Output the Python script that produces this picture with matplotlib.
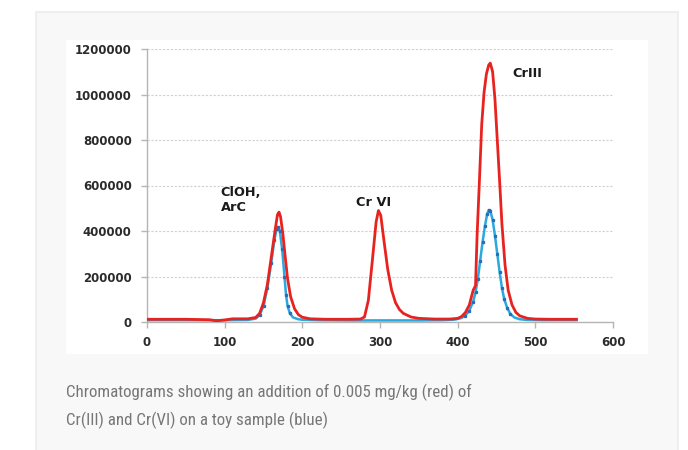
import matplotlib
matplotlib.use("Agg")
import matplotlib.pyplot as plt
from matplotlib.patches import Rectangle
from matplotlib import font_manager

# ---- data ----
red_x = [0, 50, 80, 88, 92, 100, 110, 130, 140, 145, 150, 155, 160, 165, 168, 170,
         172, 175, 178, 181, 185, 190, 195, 200, 210, 230, 260, 275, 280, 285, 290,
         295, 298, 301, 305, 310, 315, 320, 325, 330, 340, 350, 370, 390, 400, 405,
         410, 415, 420, 423, 425, 428, 431, 434, 437, 440, 442, 445, 448, 451, 454,
         457, 461, 465, 470, 475, 480, 490, 500, 520, 553]
red_y = [12000, 12000, 10000, 6000, 6000, 9000, 14000, 14000, 20000, 38000, 85000,
         165000, 285000, 405000, 472000, 483000, 462000, 385000, 285000, 190000,
         110000, 58000, 32000, 21000, 14000, 12000, 12000, 13000, 22000, 95000,
         265000, 440000, 490000, 468000, 360000, 230000, 140000, 85000, 55000,
         38000, 22000, 16000, 13000, 13000, 16000, 24000, 42000, 75000, 140000,
         160000, 380000, 620000, 870000, 1010000, 1090000, 1130000, 1138000,
         1100000, 980000, 800000, 620000, 430000, 250000, 140000, 75000, 42000,
         27000, 16000, 13000, 12000, 12000]

blue_x = [0, 50, 100, 130, 140, 145, 150, 155, 160, 164, 167, 169, 171, 174, 177,
          179, 181, 184, 188, 195, 200, 220, 260, 300, 350, 380, 395, 400, 405,
          410, 415, 420, 423, 426, 429, 432, 435, 438, 440, 442, 445, 448, 451,
          454, 457, 460, 464, 468, 473, 480, 490, 510, 553]
blue_y = [8000, 8000, 8000, 9000, 15000, 30000, 70000, 150000, 260000, 360000,
          410000, 418000, 400000, 320000, 200000, 120000, 70000, 38000, 20000,
          12000, 10000, 8000, 7000, 7000, 7000, 8000, 10000, 13000, 18000, 28000,
          50000, 90000, 130000, 190000, 270000, 350000, 420000, 475000, 492000,
          488000, 450000, 380000, 300000, 220000, 150000, 100000, 60000, 35000,
          20000, 12000, 9000, 8000, 8000]

x_ticks = [0, 100, 200, 300, 400, 500, 600]
y_ticks = [0, 200000, 400000, 600000, 800000, 1000000, 1200000]

labels = ["ClOH,\nArC", "Cr VI", "CrIII"]
label_x = [95, 269, 471]
label_y = [490000, 510000, 1077000]

caption_lines = ["Chromatograms showing an addition of 0.005 mg/kg (red) of",
                 "Cr(III) and Cr(VI) on a toy sample (blue)"]

# pick a condensed face for the caption if one is installed
cap_family = "Roboto"
cap_size = 10.6
names = sorted({f.name for f in font_manager.fontManager.ttflist})
for cand in ("Liberation Sans Narrow", "DejaVu Sans Condensed", "Roboto Condensed",
             "Open Sans Condensed"):
    if cand in names:
        cap_family = cand
        cap_size = 12.2
        break

# ---- figure ----
W, H = 688, 450
fig = plt.figure(figsize=(W / 100, H / 100), dpi=100)
fig.patch.set_facecolor("white")


def rect(x0, y0, x1, y1, **kw):
    fig.patches.append(Rectangle((x0 / W, 1 - y1 / H), (x1 - x0) / W, (y1 - y0) / H,
                                 transform=fig.transFigure, zorder=-10, **kw))


rect(36, 12, 678, 452, facecolor="#f8f8f8", edgecolor="#ececec", linewidth=1.2)
rect(66, 40, 648, 354, facecolor="white", edgecolor="none")

ax = fig.add_axes([147 / W, 1 - 322 / H, (613 - 147) / W, (322 - 49) / H])
ax.set_facecolor("none")
ax.set_zorder(5)

mark_idx = [i for i, v in enumerate(blue_y) if v > 20000]
ax.plot(blue_x, blue_y, color="#2aa8e0", lw=1.8, marker="s", ms=1.4,
        mfc="#2a6db5", mec="#2a6db5", markevery=mark_idx, zorder=3)
ax.plot(red_x, red_y, color="#e8231f", lw=2.0, zorder=4)

ax.set_xlim(0, 600)
ax.set_ylim(0, 1200000)
ax.set_xticks(x_ticks)
ax.set_yticks(y_ticks)
ax.set_xticklabels([str(v) for v in x_ticks])
ax.set_yticklabels([str(v) for v in y_ticks])

for s in ("top", "right"):
    ax.spines[s].set_visible(False)
for s in ("left", "bottom"):
    ax.spines[s].set_color("#b5b5b5")
    ax.spines[s].set_linewidth(1.0)

ax.tick_params(axis="both", colors="#b5b5b5", length=4, width=1.0,
               labelcolor="#2b2b2b", labelsize=8.5)
ax.tick_params(axis="y", pad=7)
ax.tick_params(axis="x", pad=6)
for lab in ax.get_xticklabels() + ax.get_yticklabels():
    lab.set_fontweight("semibold")

ax.yaxis.grid(True, color="#d0d0d0", linestyle=(0, (2, 1.5)), linewidth=0.8)
ax.set_axisbelow(True)

for t, x, y in zip(labels, label_x, label_y):
    ax.text(x, y, t, fontsize=9.3, fontweight="bold", color="#1a1a1a",
            ha="left", va="baseline", linespacing=1.2, zorder=5)

for line, base in zip(caption_lines, [397, 425]):
    fig.text(66 / W, 1 - base / H, line, fontsize=cap_size, color="#767676",
             family=cap_family, ha="left", va="baseline")

fig.savefig("out.png", dpi=100)
